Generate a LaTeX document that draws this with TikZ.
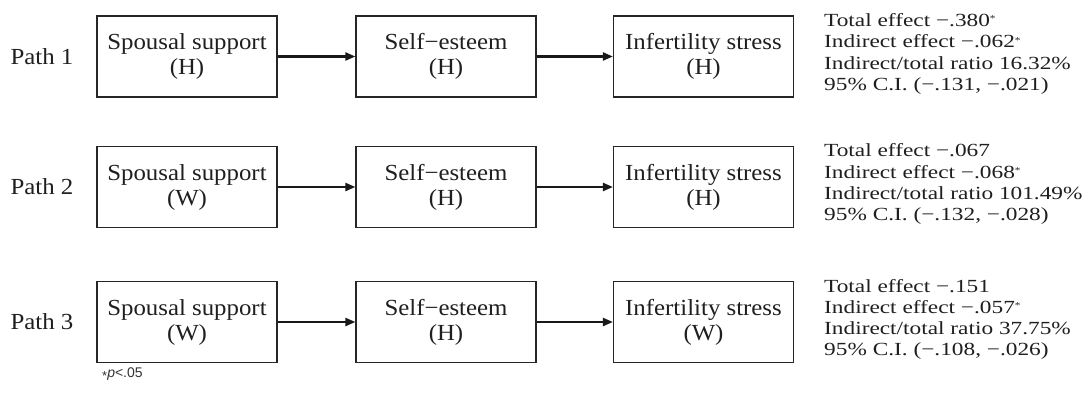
\documentclass[tikz,border=0pt]{standalone}
\usepackage{fontspec}
\setmainfont{Liberation Serif}
\newfontfamily\boxfont[FakeStretch=1.08]{Liberation Serif}
\newfontfamily\statfont[FakeStretch=1.26]{Liberation Serif}
\newfontfamily\notefont{Liberation Sans}
\usetikzlibrary{arrows.meta}
\newcommand\sigstar{\raisebox{4.5pt}{\fontsize{9}{9}\selectfont *}}
\begin{document}
\begin{tikzpicture}[x=1pt,y=-1pt,
  varbox/.style={draw=black!85, line width=1.2pt, minimum width=180pt, minimum height=81pt, inner sep=0pt, align=center, text=black!88, font=\boxfont\fontsize{23}{25}\selectfont},
  pathlbl/.style={font=\boxfont\fontsize{23}{25}\selectfont, text=black!88, inner sep=0pt},
  statln/.style={anchor=base west, inner sep=0pt, text=black!88, font=\statfont\fontsize{18.5}{21.5}\selectfont},
  conn/.style={line width=2.2pt, draw=black!90, -{Triangle[length=10pt,width=8pt]}}]
\useasboundingbox (0,0) rectangle (1092,393);

% Row 1
\node[pathlbl] (p1) at (42,56.5) {Path 1};
\node[varbox] (a1) at (187,56.5) {Spousal support\\(H)};
\node[varbox] (b1) at (446,56.5) {Self−esteem\\(H)};
\node[varbox] (c1) at (703.5,56.5) {Infertility stress\\(H)};
\draw[conn] (a1) -- (b1);
\draw[conn] (b1) -- (c1);
\node[statln] (s1a) at (824,26.5) {Total effect −.380\sigstar};
\node[statln] (s1b) at (824,47.8) {Indirect effect −.062\sigstar};
\node[statln] (s1c) at (824,69.1) {Indirect/total ratio 16.32\%};
\node[statln] (s1d) at (824,90.4) {95\% C.I. (−.131, −.021)};

% Row 2
\node[pathlbl] (p2) at (42,187) {Path 2};
\node[varbox] (a2) at (187,187) {Spousal support\\(W)};
\node[varbox] (b2) at (446,187) {Self−esteem\\(H)};
\node[varbox] (c2) at (703.5,187) {Infertility stress\\(H)};
\draw[conn] (a2) -- (b2);
\draw[conn] (b2) -- (c2);
\node[statln] (s2a) at (824,157) {Total effect −.067};
\node[statln] (s2b) at (824,178.3) {Indirect effect −.068\sigstar};
\node[statln] (s2c) at (824,199.6) {Indirect/total ratio 101.49\%};
\node[statln] (s2d) at (824,220.9) {95\% C.I. (−.132, −.028)};

% Row 3
\node[pathlbl] (p3) at (42,322) {Path 3};
\node[varbox] (a3) at (187,322) {Spousal support\\(W)};
\node[varbox] (b3) at (446,322) {Self−esteem\\(H)};
\node[varbox] (c3) at (703.5,322) {Infertility stress\\(W)};
\draw[conn] (a3) -- (b3);
\draw[conn] (b3) -- (c3);
\node[statln] (s3a) at (824,292) {Total effect −.151};
\node[statln] (s3b) at (824,313.3) {Indirect effect −.057\sigstar};
\node[statln] (s3c) at (824,334.6) {Indirect/total ratio 37.75\%};
\node[statln] (s3d) at (824,355.9) {95\% C.I. (−.108, −.026)};

% footnote
\node[anchor=base west, inner sep=0pt, text=black!80, font=\notefont\fontsize{14}{14}\selectfont] (note) at (102,377) {\raisebox{-3pt}{\fontsize{13}{13}\selectfont *}\textit{p}<.05};
\end{tikzpicture}
\end{document}
